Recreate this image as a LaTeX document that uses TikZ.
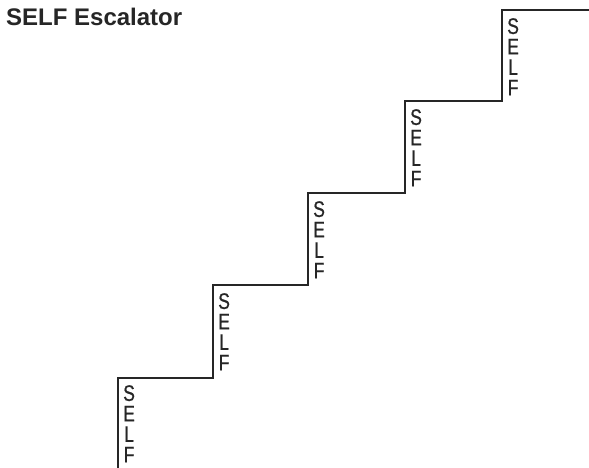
\documentclass[tikz,border=0pt]{standalone}
\usepackage{fontspec}
\setmainfont{Liberation Sans}
\newfontfamily\narrowsans[FakeStretch=0.78,FakeBold=0.6]{Liberation Sans}
\begin{document}
\begin{tikzpicture}[x=1pt,y=-1pt,
  stair/.style={line width=2.4pt, draw=black!85, line join=miter},
  selfword/.style={anchor=north west, inner sep=0pt, align=center,
    font=\narrowsans\fontsize{22.5}{20.5}\selectfont, text=black!85},
  titletext/.style={anchor=base west, inner sep=0pt,
    font=\bfseries\fontsize{24}{26}\selectfont, text=black!85}]
\useasboundingbox[fill=white] (0,0) rectangle (589,468);
\node[titletext] (title) at (6,26) {SELF Escalator};
\coordinate (p0) at (118,470);
\coordinate (p1) at (118,378);
\coordinate (p2) at (213,378);
\coordinate (p3) at (213,285);
\coordinate (p4) at (308,285);
\coordinate (p5) at (308,193);
\coordinate (p6) at (405,193);
\coordinate (p7) at (405,101);
\coordinate (p8) at (502,101);
\coordinate (p9) at (502,10);
\coordinate (p10) at (591,10);
\draw[stair] (p0) -- (p1) -- (p2) -- (p3) -- (p4) -- (p5) -- (p6) -- (p7) -- (p8) -- (p9) -- (p10);
\node[selfword] (s1) at (123,385) {S\\E\\L\\F};
\node[selfword] (s2) at (218,293) {S\\E\\L\\F};
\node[selfword] (s3) at (313,201) {S\\E\\L\\F};
\node[selfword] (s4) at (410,109) {S\\E\\L\\F};
\node[selfword] (s5) at (507,18) {S\\E\\L\\F};
\end{tikzpicture}
\end{document}
